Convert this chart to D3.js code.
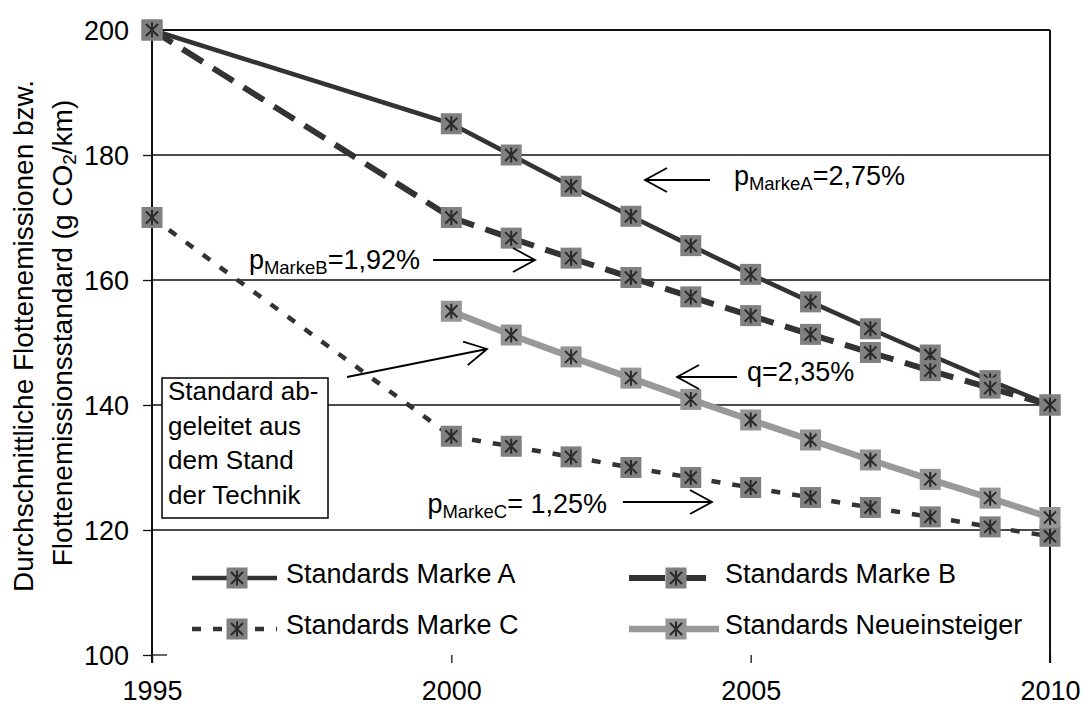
<!DOCTYPE html>
<html>
<head>
<meta charset="utf-8">
<script src="https://cdn.jsdelivr.net/npm/d3@7"></script>
<style>
html, body { margin: 0; padding: 0; background: #fff; }
svg { display: block; font-family: "Liberation Sans", Arial, sans-serif; }
</style>
</head>
<body>
<svg id="chart" width="1082" height="706"></svg>
<script>
// ---- data ----
const years = [1995, 2000, 2001, 2002, 2003, 2004, 2005, 2006, 2007, 2008, 2009, 2010];
const markeA = [200, 185, 180, 175, 170.2, 165.5, 160.9, 156.5, 152.2, 148, 143.9, 140];
const markeB = [200, 170, 166.7, 163.5, 160.4, 157.3, 154.3, 151.3, 148.4, 145.5, 142.7, 140];
const markeC = [170, 135, 133.4, 131.7, 130, 128.4, 126.8, 125.2, 123.6, 122.1, 120.5, 119];
const neuYears = [2000, 2001, 2002, 2003, 2004, 2005, 2006, 2007, 2008, 2009, 2010];
const neueinsteiger = [155, 151.2, 147.7, 144.3, 140.9, 137.6, 134.4, 131.2, 128.1, 125.1, 122.0];
const seriesNames = ["Standards Marke A", "Standards Marke B", "Standards Marke C", "Standards Neueinsteiger"];
const xTicks = [1995, 2000, 2005, 2010];
const yTicks = [100, 120, 140, 160, 180, 200];
const yTitle = ["Durchschnittliche Flottenemissionen bzw.", "Flottenemissionsstandard (g CO", "2", "/km)"];
const boxText = ["Standard ab-", "geleitet aus", "dem Stand", "der Technik"];

// ---- layout ----
const svg = d3.select("#chart");
const x = d3.scaleLinear().domain([1995, 2010]).range([152, 1050]);
const y = d3.scaleLinear().domain([100, 200]).range([655, 30]);
const FONT = 27;

// gridlines
svg.append("g").selectAll("line").data(yTicks.filter(v => v > 100)).join("line")
  .attr("x1", x(1995)).attr("x2", x(2010))
  .attr("y1", d => y(d)).attr("y2", d => y(d))
  .attr("stroke", "#111").attr("stroke-width", d => d === 200 ? 2.2 : 1.3);

// right border
svg.append("line").attr("x1", x(2010)).attr("x2", x(2010)).attr("y1", y(200)).attr("y2", y(100) + 8)
  .attr("stroke", "#111").attr("stroke-width", 2);

// y axis
const yAxis = d3.axisLeft(y).tickValues(yTicks).tickSize(9).tickPadding(14).tickFormat(d3.format("d"));
const gy = svg.append("g").attr("transform", `translate(${x(1995)},0)`).call(yAxis);
gy.select(".domain").remove();
gy.selectAll(".tick line").attr("stroke", "#111").attr("stroke-width", 1.3);
gy.selectAll(".tick text").attr("font-size", FONT).attr("fill", "#000")
  .attr("font-family", "Liberation Sans, Arial, sans-serif").attr("dy", "0.35em");
svg.append("line").attr("x1", x(1995)).attr("x2", x(1995)).attr("y1", y(200)).attr("y2", y(100) + 8)
  .attr("stroke", "#111").attr("stroke-width", 2);
svg.append("line").attr("x1", x(1995)).attr("x2", x(1995) + 15).attr("y1", y(100)).attr("y2", y(100))
  .attr("stroke", "#111").attr("stroke-width", 1.3);

// x axis (ticks + labels only)
const xAxis = d3.axisBottom(x).tickValues(xTicks).tickSize(8).tickPadding(23).tickFormat(d3.format("d"));
const gx = svg.append("g").attr("transform", `translate(0,${y(100)})`).call(xAxis);
gx.select(".domain").remove();
gx.selectAll(".tick line").attr("stroke", "#111").attr("stroke-width", 1.3);
gx.selectAll(".tick text").attr("font-size", FONT).attr("fill", "#000")
  .attr("font-family", "Liberation Sans, Arial, sans-serif").attr("dy", "0.5em");

// y title
const TF = 28;
svg.append("text").attr("transform", "translate(33,336) rotate(-90)")
  .attr("text-anchor", "middle").attr("font-size", TF).text(yTitle[0]);
const t2 = svg.append("text").attr("transform", "translate(72,333) rotate(-90)")
  .attr("text-anchor", "middle").attr("font-size", TF);
t2.append("tspan").text(yTitle[1]);
t2.append("tspan").attr("font-size", 19).attr("dy", 4).text(yTitle[2]);
t2.append("tspan").attr("dy", -4).text(yTitle[3]);

// ---- series ----
const series = [
  { name: seriesNames[0], xs: years, ys: markeA, color: "#333", width: 4.5, dash: null, ldash: null, mfill: "#808080" },
  { name: seriesNames[1], xs: years, ys: markeB, color: "#333", width: 6, dash: "24,12", ldash: "36,21,20,100", mfill: "#808080" },
  { name: seriesNames[2], xs: years, ys: markeC, color: "#333", width: 4.5, dash: "9,12", ldash: "9,12", mfill: "#808080" },
  { name: seriesNames[3], xs: neuYears, ys: neueinsteiger, color: "#999", width: 6.5, dash: null, ldash: null, mfill: "#959595" }
];

const line = d3.line().x(d => x(d[0])).y(d => y(d[1]));

function drawMarker(g, cx, cy, fill) {
  const m = g.append("g").attr("transform", `translate(${cx},${cy})`);
  m.append("rect").attr("x", -10.5).attr("y", -10.5).attr("width", 21).attr("height", 21).attr("fill", fill);
  const s = 6;
  m.append("path").attr("d", `M${-s},${-s}L${s},${s}M${-s},${s}L${s},${-s}M0,${-s - 1.5}L0,${s + 1.5}`)
    .attr("stroke", "#2a2a2a").attr("stroke-width", 2).attr("fill", "none");
}

series.forEach(s => {
  const pts = s.xs.map((xv, i) => [xv, s.ys[i]]);
  const g = svg.append("g");
  // each segment separately so the dash pattern restarts at every point
  const segs = d3.pairs(pts);
  g.selectAll("path").data(segs).join("path")
    .attr("d", d => line(d))
    .attr("fill", "none").attr("stroke", s.color).attr("stroke-width", s.width)
    .attr("stroke-dasharray", s.dash).attr("stroke-linecap", "butt");
  s.pts = pts;
});
series.forEach(s => {
  const g = svg.append("g");
  s.pts.forEach(p => drawMarker(g, x(p[0]), y(p[1]), s.mfill));
});

// ---- legend ----
const legendCols = [{ x0: 192, x1: 277, mx: 237, tx: 286 }, { x0: 629, x1: 719, mx: 676, tx: 725 }];
const legendRows = [578, 629];
series.forEach((s, i) => {
  const c = legendCols[i % 2], ry = legendRows[Math.floor(i / 2)];
  const g = svg.append("g");
  g.append("line").attr("x1", c.x0).attr("x2", c.x1).attr("y1", ry).attr("y2", ry)
    .attr("stroke", s.color).attr("stroke-width", s.width).attr("stroke-dasharray", s.ldash);
  drawMarker(g, c.mx, ry, s.mfill);
  g.append("text").attr("x", c.tx).attr("y", ry + 5).attr("font-size", FONT).text(s.name);
});

// ---- annotations ----
function arrow(x1, y1, x2, y2) {
  const dx = x2 - x1, dy = y2 - y1, L = Math.hypot(dx, dy);
  const ux = dx / L, uy = dy / L, hl = 22, hw = 12;
  const bx = x2 - ux * hl, by = y2 - uy * hl;
  svg.append("path")
    .attr("d", `M${x1},${y1}L${x2},${y2}M${bx - uy * hw},${by + ux * hw}L${x2},${y2}L${bx + uy * hw},${by - ux * hw}`)
    .attr("fill", "none").attr("stroke", "#000").attr("stroke-width", 1.8);
}
function pLabel(xEnd, yb, sub, val) {
  const t = svg.append("text").attr("x", xEnd).attr("y", yb).attr("text-anchor", "end").attr("font-size", FONT);
  t.append("tspan").text("p");
  t.append("tspan").attr("font-size", 18.5).attr("dy", 5).text(sub);
  t.append("tspan").attr("dy", -5).text(val);
}
arrow(710, 180, 645, 180);
pLabel(905, 185, "MarkeA", "=2,75%");
arrow(433, 260, 535, 260);
pLabel(420, 269, "MarkeB", "=1,92%");
arrow(623, 502, 712, 502);
pLabel(607, 513, "MarkeC", "= 1,25%");
arrow(737, 377, 677, 377);
svg.append("text").attr("x", 747).attr("y", 381).attr("font-size", FONT).text("q=2,35%");

// text box
svg.append("rect").attr("x", 162).attr("y", 378).attr("width", 166).attr("height", 140)
  .attr("fill", "#fff").attr("stroke", "#000").attr("stroke-width", 1.5);
const bt = svg.append("text").attr("font-size", 26);
boxText.forEach((s, i) => bt.append("tspan").attr("x", 168).attr("y", 400 + i * 34.5).text(s));
arrow(347, 377, 487, 349);
</script>
</body>
</html>
